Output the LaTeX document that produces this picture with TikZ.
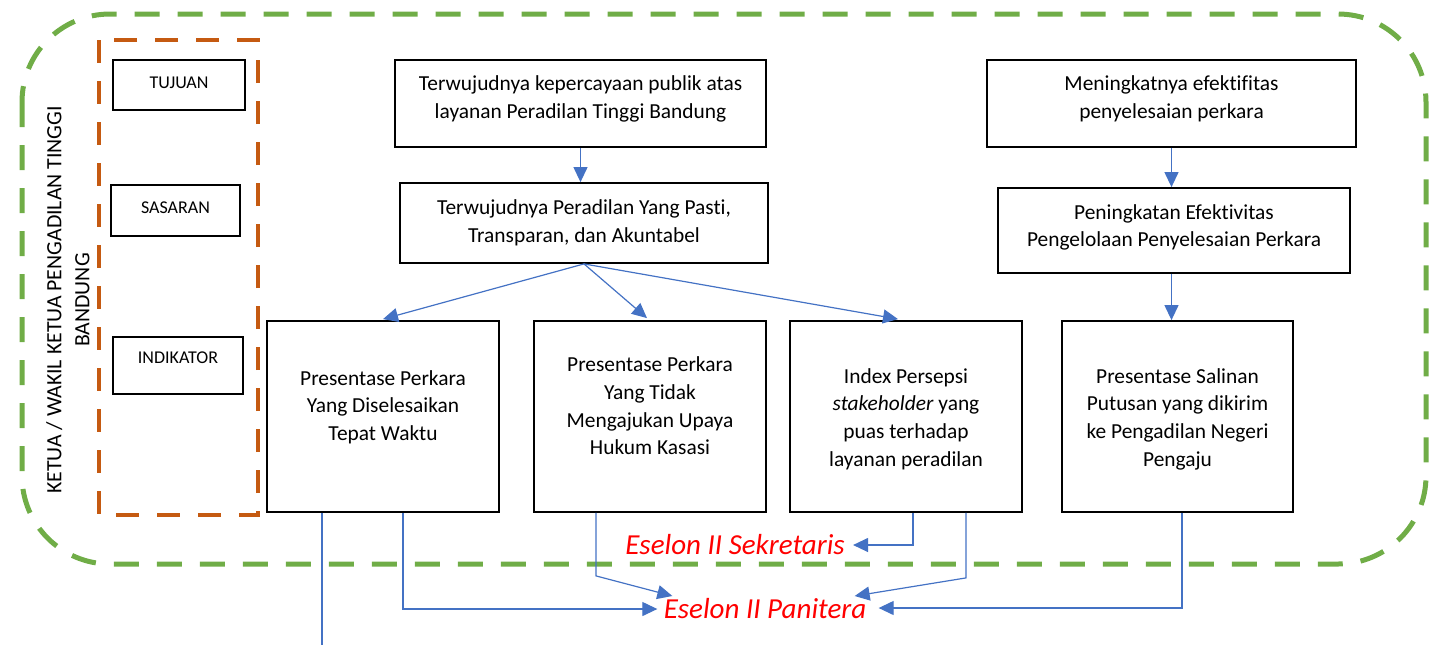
\documentclass[tikz,border=0pt]{standalone}
\usepackage{fontspec}
\setmainfont{Carlito}[Ligatures={NoCommon}]
\usetikzlibrary{arrows.meta,calc}
\definecolor{arrowblue}{HTML}{4472C4}
\definecolor{eselred}{HTML}{FF0000}
\definecolor{frgreen}{HTML}{70AD47}
\definecolor{frorange}{HTML}{C55A11}
\begin{document}
\begin{tikzpicture}[x=0.5pt,y=-0.5pt,
  box/.style={draw=black,line width=0.9pt,inner sep=0pt},
  sbox/.style={draw=black,line width=0.8pt,inner sep=0pt},
  txt/.style={align=center,font=\fontsize{10.7}{13.8}\selectfont,inner sep=0pt},
  stxt/.style={font=\fontsize{9}{11}\selectfont,inner sep=0pt},
  arr/.style={draw=arrowblue,line width=0.6pt,-{Triangle[length=7.5pt,width=7pt]}},
  ln/.style={draw=arrowblue,line width=0.6pt},
  esel/.style={text=eselred,font=\fontsize{14.5}{17}\selectfont\itshape,inner sep=0pt},
  greenframe/.style={draw=frgreen,line width=2.5pt,dash pattern=on 12.5pt off 9pt,rounded corners=44pt},
  orangeframe/.style={draw=frorange,line width=2.3pt,dash pattern=on 11.5pt off 9pt}]
\useasboundingbox (0,0) rectangle (1431,645);

% frames
\draw[greenframe] (22,14) rectangle (1426,564);
\draw[orangeframe] (99,40) rectangle (258,515);

% vertical label
\node[txt,rotate=90,font=\fontsize{10.9}{14}\selectfont] (lead) at (68,300)
  {KETUA / WAKIL KETUA PENGADILAN TINGGI\\BANDUNG};

% legend boxes
\node[sbox,minimum width=66pt,minimum height=25pt] (tuj) at (179,85) {};
\node[stxt] (tujt) at (179,83) {TUJUAN};
\node[sbox,minimum width=64.5pt,minimum height=25.5pt] (sas) at (175.5,210.5) {};
\node[stxt] (sast) at (175.5,208) {SASARAN};
\node[sbox,minimum width=65pt,minimum height=28.5pt] (ind) at (178,365.5) {};
\node[stxt] (indt) at (178,358) {INDIKATOR};

% main boxes
\node[box,minimum width=185.5pt,minimum height=43.5pt] (A) at (580.5,103.5) {};
\node[txt] (At) at (580.5,99) {Terwujudnya kepercayaan publik atas\\layanan Peradilan Tinggi Bandung};
\node[box,minimum width=184pt,minimum height=40pt] (B) at (584,223) {};
\node[txt] (Bt) at (584,222.5) {Terwujudnya Peradilan Yang Pasti,\\Transparan, dan Akuntabel};
\node[box,minimum width=184.5pt,minimum height=43.5pt] (C) at (1171.5,103.5) {};
\node[txt] (Ct) at (1171.5,99) {Meningkatnya efektifitas\\penyelesaian perkara};
\node[box,minimum width=176pt,minimum height=42.5pt] (D) at (1174,230.5) {};
\node[txt] (Dt) at (1174,227.5) {Peningkatan Efektivitas\\Pengelolaan Penyelesaian Perkara};

\node[box,minimum width=116pt,minimum height=95.5pt] (E) at (383,416.5) {};
\node[txt] (Et) at (383,407) {Presentase Perkara\\Yang Diselesaikan\\Tepat Waktu};
\node[box,minimum width=116pt,minimum height=95.5pt] (F) at (650,416.5) {};
\node[txt] (Ft) at (650,406) {Presentase Perkara\\Yang Tidak\\Mengajukan Upaya\\Hukum Kasasi};
\node[box,minimum width=116pt,minimum height=95.5pt] (G) at (906,416.5) {};
\node[txt] (Gt) at (906,419) {Index Persepsi\\\textit{stakeholder} yang\\puas terhadap\\layanan peradilan};
\node[box,minimum width=115.5pt,minimum height=95.5pt] (H) at (1177.5,416.5) {};
\node[txt] (Ht) at (1177.5,419) {Presentase Salinan\\Putusan yang dikirim\\ke Pengadilan Negeri\\Pengaju};

% eselon labels
\node[esel] (S) at (735,545) {Eselon II Sekretaris};
\node[esel] (P) at (765,609) {Eselon II Panitera};

% top connectors
\draw[arr] (A.south) -- (A.south |- B.north);
\draw[arr] (C.south) -- (C.south |- D.north);
\draw[arr] (C.south |- D.south) -- (C.south |- H.north);
\draw[arr] (B.south) -- ([xshift=0pt,yshift=0.5pt]E.north);
\draw[arr] (B.south) -- ([xshift=-1.5pt,yshift=1pt]F.north);
\draw[arr] (B.south) -- ([xshift=-4pt,yshift=0.5pt]G.north);

% bottom connectors
\coordinate (eEnd) at (322,645);
\draw[ln] (eEnd |- E.south) -- (eEnd);
\draw[arr] ([xshift=10pt]E.south) |- ($(P.west)+(-6,0)$);
\draw[arr] ([xshift=-27pt]F.south) -- ++(0,63) -- ($(P.west)+(9,-13)$);
\draw[arr] ([xshift=3.5pt]G.south) |- ($(S.east)+(8,0)$);
\draw[arr] ([xshift=30pt]G.south) -- ++(0,65) -- ($(P.east)+(-12,-13)$);
\draw[arr] ([xshift=2.25pt]H.south) |- ($(P.east)+(12,-1)$);
\end{tikzpicture}
\end{document}
